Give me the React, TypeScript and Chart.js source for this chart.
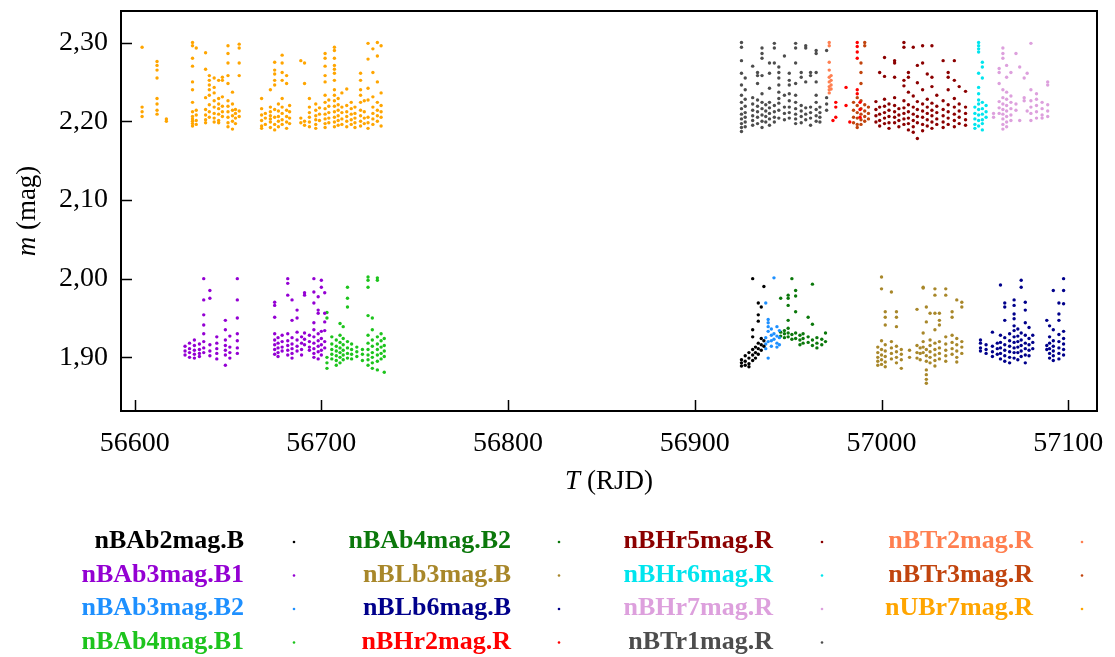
import React, { useEffect, useRef } from "react";
import { Chart, registerables } from "chart.js";

Chart.register(...registerables);

type Night = [number, number[]];

// Observing nights: [RJD, magnitudes measured that night]
const nBAb2magB: Night[] = [
  [56925, [1.897, 1.893, 1.889]],
  [56927, [1.902, 1.895, 1.890]],
  [56929, [1.906, 1.899, 1.892, 1.888]],
  [56931, [2.000, 1.935, 1.926, 1.910, 1.903, 1.896]],
  [56932.5, [1.913, 1.906, 1.899]],
  [56934, [1.969, 1.954, 1.946, 1.918, 1.911, 1.904]],
  [56935.6, [1.964, 1.924, 1.916, 1.909]],
  [56937, [1.990, 1.921, 1.914]],
];

const nBAb3magB1: Night[] = [
  [56627, [1.914, 1.908, 1.903]],
  [56629.4, [1.918, 1.911, 1.906, 1.900]],
  [56632, [1.922, 1.915, 1.909, 1.904, 1.899]],
  [56634.7, [1.917, 1.910, 1.905, 1.901]],
  [56637, [2.000, 1.973, 1.954, 1.941, 1.930, 1.920, 1.912, 1.906]],
  [56640.3, [1.985, 1.975, 1.916, 1.908, 1.902]],
  [56644, [1.926, 1.918, 1.911, 1.905, 1.898]],
  [56648.6, [1.947, 1.935, 1.922, 1.915, 1.909, 1.903, 1.890]],
  [56651, [1.927, 1.913, 1.906, 1.899]],
  [56655, [2.000, 1.973, 1.950, 1.930, 1.921, 1.912, 1.905]],
  [56675, [1.970, 1.966, 1.951, 1.930, 1.922, 1.916, 1.910, 1.904]],
  [56676.8, [1.925, 1.918, 1.912, 1.906, 1.901]],
  [56679, [1.928, 1.920, 1.913, 1.908]],
  [56682, [2.000, 1.994, 1.979, 1.930, 1.921, 1.915, 1.909, 1.903]],
  [56684.3, [1.973, 1.947, 1.925, 1.917, 1.911, 1.905, 1.899]],
  [56687, [1.960, 1.950, 1.932, 1.922, 1.914, 1.908]],
  [56689.4, [1.926, 1.918, 1.910, 1.903]],
  [56691, [1.982, 1.979, 1.931, 1.923, 1.916]],
  [56693.6, [1.928, 1.920, 1.913, 1.909]],
  [56696, [2.000, 1.983, 1.969, 1.944, 1.935, 1.926, 1.918, 1.911, 1.905, 1.900]],
  [56698.3, [1.977, 1.960, 1.956, 1.930, 1.921, 1.914, 1.907, 1.898]],
  [56700, [1.998, 1.989, 1.933, 1.924, 1.916, 1.909, 1.903]],
  [56701.8, [1.982, 1.956, 1.945, 1.934, 1.920, 1.912]],
];

const nBAb3magB2: Night[] = [
  [56938, [1.969, 1.925, 1.917, 1.911]],
  [56939.3, [1.948, 1.944, 1.939, 1.933, 1.920, 1.899]],
  [56941, [1.936, 1.928, 1.921, 1.914]],
  [56942.4, [2.001, 1.930, 1.923]],
  [56944, [1.939, 1.927, 1.918, 1.913]],
  [56945.3, [1.934, 1.925, 1.916]],
];

const nBAb4magB1: Night[] = [
  [56703, [1.957, 1.950, 1.900, 1.893, 1.886]],
  [56705.6, [1.926, 1.917, 1.910, 1.904, 1.898]],
  [56708, [1.922, 1.914, 1.908, 1.902, 1.896, 1.890]],
  [56710, [1.943, 1.928, 1.919, 1.912, 1.906, 1.900, 1.893]],
  [56711.7, [1.939, 1.924, 1.916, 1.909, 1.903, 1.897]],
  [56714, [1.989, 1.975, 1.964, 1.920, 1.912, 1.905, 1.899]],
  [56716.2, [1.917, 1.910, 1.904, 1.898]],
  [56719, [1.913, 1.907, 1.901]],
  [56722, [1.910, 1.904, 1.896]],
  [56725, [2.002, 1.998, 1.989, 1.953, 1.928, 1.918, 1.910, 1.903, 1.897, 1.890]],
  [56727.3, [1.950, 1.935, 1.922, 1.914, 1.906, 1.900, 1.893, 1.886]],
  [56730, [2.001, 1.998, 1.926, 1.917, 1.910, 1.903, 1.895, 1.884]],
  [56732, [1.930, 1.921, 1.913, 1.905, 1.898]],
  [56733.7, [1.924, 1.915, 1.908, 1.901, 1.881]],
];

const nBAb4magB2: Night[] = [
  [56946, [1.975, 1.932, 1.927]],
  [56948, [1.934, 1.930, 1.925]],
  [56950, [1.979, 1.975, 1.966, 1.947, 1.937, 1.931, 1.926]],
  [56952, [2.000, 1.929, 1.923]],
  [56954, [1.985, 1.978, 1.958, 1.931, 1.924]],
  [56956.3, [1.928, 1.922, 1.916]],
  [56958, [1.930, 1.924, 1.918]],
  [56960.7, [1.951, 1.926, 1.919]],
  [56963, [1.993, 1.942, 1.922, 1.915]],
  [56965.4, [1.925, 1.918, 1.912]],
  [56968, [1.923, 1.916]],
  [56970, [1.931, 1.920]],
];

const nBLb3magB: Night[] = [
  [56998, [1.913, 1.906, 1.900, 1.895, 1.890]],
  [57000, [2.002, 1.987, 1.921, 1.910, 1.903, 1.897, 1.891]],
  [57002, [1.958, 1.951, 1.941, 1.916, 1.908, 1.901, 1.894, 1.888]],
  [57005.3, [1.983, 1.920, 1.912, 1.905, 1.898]],
  [57008, [1.958, 1.951, 1.939, 1.914, 1.907, 1.900, 1.893]],
  [57010.6, [1.910, 1.904, 1.897, 1.886]],
  [57015, [1.909, 1.900]],
  [57019, [1.961, 1.915, 1.906, 1.899]],
  [57020.7, [1.912, 1.905, 1.897]],
  [57022.3, [1.989, 1.988, 1.931, 1.920, 1.913, 1.906]],
  [57024, [1.964, 1.945, 1.910, 1.902, 1.895, 1.884, 1.878, 1.872, 1.867]],
  [57026, [1.956, 1.922, 1.915, 1.907, 1.900, 1.893]],
  [57028.6, [1.987, 1.979, 1.956, 1.935, 1.918, 1.910, 1.903, 1.896, 1.889]],
  [57031, [1.956, 1.947, 1.941, 1.920, 1.912, 1.905, 1.898]],
  [57034.4, [1.987, 1.979, 1.926, 1.917, 1.909, 1.902, 1.895]],
  [57037.8, [1.958, 1.951, 1.928, 1.919, 1.911, 1.904]],
  [57040.3, [1.973, 1.924, 1.916, 1.908, 1.900, 1.894]],
  [57043, [1.970, 1.964, 1.920, 1.913, 1.905]],
];

const nBLb6magB: Night[] = [
  [57053, [1.922, 1.918, 1.912, 1.908]],
  [57056, [1.916, 1.910, 1.905]],
  [57059.4, [1.932, 1.914, 1.907, 1.901]],
  [57062, [1.918, 1.911, 1.904]],
  [57063.7, [1.992, 1.928, 1.919, 1.912, 1.905, 1.898]],
  [57066, [1.969, 1.964, 1.947, 1.925, 1.916, 1.909, 1.902, 1.895]],
  [57068.6, [1.930, 1.921, 1.914, 1.907, 1.900, 1.893]],
  [57071, [1.973, 1.966, 1.955, 1.949, 1.940, 1.934, 1.926, 1.919, 1.912, 1.906, 1.899]],
  [57073, [1.936, 1.927, 1.920, 1.913, 1.906, 1.897]],
  [57074.8, [1.998, 1.989, 1.931, 1.922, 1.915, 1.908, 1.901]],
  [57077, [1.970, 1.960, 1.944, 1.928, 1.918, 1.911, 1.903, 1.893]],
  [57079, [1.938, 1.924, 1.916, 1.909, 1.902]],
  [57081, [1.928, 1.919, 1.911]],
  [57088.5, [1.947, 1.915, 1.910]],
  [57090, [1.940, 1.926, 1.918, 1.911, 1.905, 1.899]],
  [57092, [1.985, 1.935, 1.921, 1.914, 1.908, 1.902, 1.896]],
  [57095, [1.969, 1.955, 1.947, 1.929, 1.920, 1.912, 1.905, 1.898]],
  [57097.5, [2.000, 1.985, 1.968, 1.933, 1.924, 1.917, 1.910, 1.903]],
];

const nBHr2magR: Night[] = [
  [56974, [2.201]],
  [56975.5, [2.224, 2.218, 2.205]],
  [56981, [2.243, 2.220]],
  [56983, [2.199]],
  [56987, [2.300, 2.295, 2.288, 2.280, 2.240, 2.235]],
  [56988.5, [2.224, 2.215, 2.205]],
];

const nBHr5magR: Night[] = [
  [56997, [2.225, 2.215, 2.207, 2.199]],
  [56999, [2.262, 2.218, 2.209, 2.201, 2.194]],
  [57001.6, [2.281, 2.257, 2.228, 2.219, 2.211, 2.204, 2.197]],
  [57004, [2.222, 2.214, 2.206, 2.198, 2.191]],
  [57007, [2.277, 2.274, 2.256, 2.230, 2.220, 2.212, 2.205, 2.198]],
  [57009.3, [2.216, 2.208, 2.201, 2.193]],
  [57012, [2.300, 2.294, 2.252, 2.245, 2.226, 2.217, 2.210, 2.203, 2.196]],
  [57014.4, [2.262, 2.256, 2.237, 2.221, 2.212, 2.204, 2.197, 2.189]],
  [57017, [2.294, 2.232, 2.218, 2.209, 2.201, 2.193, 2.186]],
  [57019.2, [2.271, 2.249, 2.225, 2.215, 2.206, 2.198, 2.178]],
  [57022, [2.296, 2.274, 2.240, 2.222, 2.213, 2.205, 2.196, 2.188]],
  [57024.5, [2.260, 2.228, 2.218, 2.210, 2.202, 2.194]],
  [57027, [2.296, 2.256, 2.244, 2.223, 2.214, 2.207, 2.199, 2.191]],
  [57029.6, [2.233, 2.219, 2.211, 2.203, 2.196]],
  [57033, [2.277, 2.226, 2.215, 2.207, 2.199, 2.192]],
  [57035.7, [2.262, 2.256, 2.240, 2.221, 2.212, 2.204, 2.196]],
  [57039, [2.277, 2.252, 2.229, 2.218, 2.209, 2.201, 2.193]],
  [57041.6, [2.244, 2.222, 2.213, 2.205, 2.197]],
  [57045, [2.238, 2.218, 2.210, 2.202, 2.195]],
];

const nBHr6magR: Night[] = [
  [57050, [2.218, 2.210, 2.203, 2.196, 2.191]],
  [57052, [2.300, 2.296, 2.292, 2.288, 2.261, 2.243, 2.235, 2.227, 2.222, 2.215, 2.208, 2.201, 2.194]],
  [57054, [2.275, 2.269, 2.255, 2.224, 2.216, 2.209, 2.202, 2.197, 2.189]],
  [57056, [2.220, 2.212, 2.205]],
];

const nBHr7magR: Night[] = [
  [57060, [2.210, 2.205]],
  [57063, [2.267, 2.262, 2.248, 2.225, 2.217, 2.210]],
  [57065, [2.293, 2.286, 2.280, 2.240, 2.230, 2.222, 2.215, 2.209, 2.203, 2.196, 2.190]],
  [57067, [2.271, 2.256, 2.237, 2.228, 2.220, 2.213, 2.206, 2.199, 2.193]],
  [57069.3, [2.262, 2.232, 2.224, 2.216, 2.208, 2.201]],
  [57072, [2.286, 2.222, 2.214]],
  [57074, [2.269, 2.201]],
  [57076.4, [2.255, 2.230, 2.226]],
  [57078, [2.261, 2.213]],
  [57080, [2.299, 2.240, 2.226, 2.218, 2.210, 2.201]],
  [57083, [2.235, 2.228, 2.220, 2.212, 2.204]],
  [57086, [2.224, 2.216, 2.208, 2.204]],
  [57089, [2.250, 2.246, 2.221, 2.213, 2.206]],
];

const nBTr1magR: Night[] = [
  [56925, [2.300, 2.294, 2.277, 2.261, 2.246, 2.233, 2.224, 2.216, 2.209, 2.203, 2.197, 2.192, 2.187]],
  [56927, [2.255, 2.240, 2.228, 2.219, 2.211, 2.205, 2.199, 2.193]],
  [56931, [2.270, 2.230, 2.222, 2.214, 2.207, 2.201, 2.195]],
  [56933.6, [2.262, 2.258, 2.248, 2.227, 2.219, 2.212, 2.205, 2.197]],
  [56936, [2.293, 2.286, 2.280, 2.258, 2.235, 2.224, 2.216, 2.208, 2.200, 2.192]],
  [56938, [2.221, 2.213, 2.206, 2.199]],
  [56940, [2.274, 2.261, 2.242, 2.224, 2.217, 2.210, 2.203, 2.195]],
  [56942.6, [2.299, 2.293, 2.274, 2.220, 2.212, 2.205, 2.199]],
  [56945, [2.269, 2.262, 2.255, 2.246, 2.237, 2.229, 2.223, 2.214, 2.204]],
  [56948, [2.283, 2.233, 2.218, 2.210, 2.202]],
  [56950.6, [2.261, 2.252, 2.246, 2.235, 2.226, 2.218, 2.211, 2.204]],
  [56954, [2.299, 2.293, 2.274, 2.248, 2.233, 2.224, 2.216, 2.209, 2.203, 2.197]],
  [56957, [2.262, 2.256, 2.220, 2.213, 2.206, 2.198]],
  [56959.4, [2.296, 2.293, 2.250, 2.217, 2.209, 2.202]],
  [56962, [2.262, 2.258, 2.218, 2.211, 2.204, 2.195]],
  [56965, [2.290, 2.286, 2.262, 2.250, 2.233, 2.224, 2.215, 2.207, 2.200]],
  [56967, [2.218, 2.211, 2.205, 2.199]],
  [56970.6, [2.290, 2.230, 2.222, 2.214]],
];

const nBTr2magR: Night[] = [
  [56972, [2.300, 2.296, 2.275, 2.265, 2.256, 2.250, 2.244, 2.240, 2.236]],
  [56973, [2.258, 2.252, 2.246, 2.241]],
];

const nBTr3magR: Night[] = [
  [56985, [2.224, 2.214, 2.205, 2.198]],
  [56987, [2.230, 2.220, 2.211, 2.204, 2.196, 2.192]],
  [56989, [2.274, 2.262, 2.248, 2.226, 2.216, 2.209, 2.202, 2.196]],
  [56991, [2.300, 2.296, 2.221, 2.213, 2.206, 2.200]],
  [56993, [2.218, 2.210, 2.203]],
];

const nUBr7magR: Night[] = [
  [56604, [2.294, 2.218, 2.212, 2.206]],
  [56612, [2.276, 2.271, 2.265, 2.255, 2.229, 2.222, 2.214, 2.209]],
  [56617, [2.203, 2.200]],
  [56631, [2.300, 2.296, 2.280, 2.270, 2.250, 2.240, 2.224, 2.212, 2.206, 2.203, 2.200, 2.197, 2.194]],
  [56633, [2.293, 2.214, 2.208, 2.201, 2.196]],
  [56638, [2.287, 2.266, 2.230, 2.215, 2.208, 2.202, 2.198]],
  [56640, [2.258, 2.252, 2.246, 2.240, 2.233, 2.221, 2.212, 2.205]],
  [56642.6, [2.255, 2.243, 2.236, 2.226, 2.218, 2.210, 2.204, 2.199]],
  [56645, [2.252, 2.229, 2.222, 2.216, 2.209, 2.201, 2.198]],
  [56647, [2.256, 2.252, 2.231, 2.219, 2.212, 2.206]],
  [56650, [2.296, 2.286, 2.274, 2.258, 2.248, 2.226, 2.219, 2.212, 2.205, 2.198, 2.193]],
  [56652.4, [2.237, 2.222, 2.214, 2.207, 2.200, 2.190]],
  [56654, [2.215, 2.210, 2.204, 2.197]],
  [56656, [2.298, 2.293, 2.274, 2.258, 2.213, 2.206]],
  [56668, [2.229, 2.216, 2.208, 2.201, 2.194, 2.191]],
  [56670, [2.210, 2.204, 2.196]],
  [56672.7, [2.240, 2.218, 2.212, 2.207, 2.203, 2.199, 2.192]],
  [56675, [2.275, 2.265, 2.260, 2.252, 2.246, 2.215, 2.205, 2.196, 2.189]],
  [56677, [2.222, 2.213, 2.206, 2.200, 2.193]],
  [56679, [2.284, 2.274, 2.262, 2.252, 2.229, 2.218, 2.210, 2.202, 2.196]],
  [56681.4, [2.258, 2.248, 2.214, 2.206, 2.199, 2.191]],
  [56683, [2.220, 2.212, 2.204, 2.197]],
  [56689, [2.277, 2.204, 2.198]],
  [56691, [2.274, 2.248, 2.200, 2.195]],
  [56693.6, [2.229, 2.218, 2.211, 2.205, 2.199, 2.193]],
  [56697, [2.222, 2.214, 2.207, 2.202, 2.196, 2.191]],
  [56699, [2.217, 2.209, 2.201]],
  [56702, [2.286, 2.280, 2.270, 2.258, 2.250, 2.233, 2.224, 2.216, 2.209, 2.203, 2.197, 2.192]],
  [56704, [2.227, 2.219, 2.211, 2.204, 2.198]],
  [56707, [2.294, 2.290, 2.280, 2.271, 2.266, 2.261, 2.252, 2.240, 2.233, 2.226, 2.219, 2.212, 2.205, 2.199, 2.193]],
  [56709, [2.229, 2.221, 2.214, 2.207, 2.201, 2.195]],
  [56711, [2.236, 2.218, 2.211, 2.203, 2.196]],
  [56713.6, [2.241, 2.220, 2.212, 2.206, 2.200, 2.193]],
  [56716, [2.224, 2.216, 2.209, 2.202, 2.196]],
  [56718, [2.218, 2.210, 2.204, 2.198, 2.192]],
  [56721, [2.261, 2.252, 2.240, 2.233, 2.224, 2.214, 2.207, 2.200, 2.194]],
  [56723, [2.226, 2.212, 2.204, 2.197]],
  [56725, [2.299, 2.279, 2.242, 2.227, 2.205, 2.198, 2.191]],
  [56727.6, [2.292, 2.262, 2.231, 2.218, 2.210, 2.203, 2.196]],
  [56730, [2.300, 2.283, 2.250, 2.224, 2.214, 2.207, 2.200]],
  [56732, [2.296, 2.236, 2.220, 2.212, 2.205, 2.194]],
];

// Series names and colours, in legend order (column by column)
const seriesNames = [
  "nBAb2mag.B", "nBAb3mag.B1", "nBAb3mag.B2", "nBAb4mag.B1",
  "nBAb4mag.B2", "nBLb3mag.B", "nBLb6mag.B", "nBHr2mag.R",
  "nBHr5mag.R", "nBHr6mag.R", "nBHr7mag.R", "nBTr1mag.R",
  "nBTr2mag.R", "nBTr3mag.R", "nUBr7mag.R",
];
const seriesColors = [
  "#000000", "#9400D3", "#1E90FF", "#1DC41D",
  "#0B780B", "#A8872A", "#00008B", "#FF0000",
  "#8B0000", "#00E5EE", "#DDA0DD", "#4D4D4D",
  "#FF7F50", "#C1440E", "#FFA500",
];
const seriesNights: Night[][] = [
  nBAb2magB, nBAb3magB1, nBAb3magB2, nBAb4magB1,
  nBAb4magB2, nBLb3magB, nBLb6magB, nBHr2magR,
  nBHr5magR, nBHr6magR, nBHr7magR, nBTr1magR,
  nBTr2magR, nBTr3magR, nUBr7magR,
];

const xTickValues = [56600, 56700, 56800, 56900, 57000, 57100];
const yTickValues = [1.9, 2.0, 2.1, 2.2, 2.3];

const SERIF = '"Liberation Serif", "Times New Roman", serif';

const toPoints = (nights: Night[]) =>
  nights.flatMap(([t, ms]) => ms.map((m) => ({ x: t, y: m })));

const framePlugin = {
  id: "frameAndTitles",
  afterDraw(chart: any) {
    const { ctx, chartArea } = chart;
    const { left, right, top, bottom } = chartArea;
    const xs = chart.scales.x;
    const ys = chart.scales.y;
    ctx.save();
    // inward tick marks
    ctx.strokeStyle = "#000";
    ctx.lineWidth = 1.5;
    ctx.beginPath();
    xTickValues.forEach((v) => {
      const px = Math.round(xs.getPixelForValue(v)) + 0.5;
      ctx.moveTo(px, bottom);
      ctx.lineTo(px, bottom - 11);
    });
    yTickValues.forEach((v) => {
      const py = Math.round(ys.getPixelForValue(v)) + 0.5;
      ctx.moveTo(left, py);
      ctx.lineTo(left + 11, py);
    });
    ctx.stroke();
    // frame
    ctx.lineWidth = 2;
    ctx.strokeRect(left, top, right - left, bottom - top);

    // axis titles with italic symbols
    ctx.fillStyle = "#000";
    ctx.textBaseline = "alphabetic";
    const drawTitle = (sym: string, rest: string, cx: number, cy: number, rot: number) => {
      ctx.save();
      ctx.translate(cx, cy);
      ctx.rotate(rot);
      ctx.font = `italic 27px ${SERIF}`;
      const w1 = ctx.measureText(sym).width;
      ctx.font = `27px ${SERIF}`;
      const w2 = ctx.measureText(rest).width;
      const start = -(w1 + w2) / 2;
      ctx.textAlign = "left";
      ctx.font = `italic 27px ${SERIF}`;
      ctx.fillText(sym, start, 0);
      ctx.font = `27px ${SERIF}`;
      ctx.fillText(rest, start + w1, 0);
      ctx.restore();
    };
    drawTitle("T", " (RJD)", (left + right) / 2, 489, 0);
    drawTitle("m", " (mag)", 35, (top + bottom) / 2, -Math.PI / 2);

    // legend: four columns, right-aligned names followed by a marker
    const colText = [244, 511, 773, 1033];
    const colDot = [294, 559, 822, 1082];
    const rowBase = [548, 581.5, 615, 648.5];
    ctx.font = `bold 26px ${SERIF}`;
    ctx.textAlign = "right";
    seriesNames.forEach((name, i) => {
      const c = Math.floor(i / 4);
      const r = i % 4;
      ctx.fillStyle = seriesColors[i];
      ctx.fillText(name, colText[c], rowBase[r]);
      ctx.beginPath();
      ctx.arc(colDot[c], rowBase[r] - 6, 1.3, 0, Math.PI * 2);
      ctx.fill();
    });
    ctx.restore();
  },
};

export default function App() {
  const canvasRef = useRef<HTMLCanvasElement | null>(null);

  useEffect(() => {
    const canvas = canvasRef.current;
    if (!canvas) return;
    const chart = new Chart(canvas, {
      type: "scatter",
      data: {
        datasets: seriesNames.map((name, i) => ({
          label: name,
          data: toPoints(seriesNights[i]),
          backgroundColor: seriesColors[i],
          borderColor: seriesColors[i],
          pointRadius: 1.7,
          pointBorderWidth: 0,
          showLine: false,
        })),
      },
      options: {
        animation: false,
        responsive: false,
        maintainAspectRatio: false,
        layout: { padding: { left: 0, right: 18, top: 11, bottom: 0 } },
        plugins: {
          legend: { display: false },
          tooltip: { enabled: false },
        },
        scales: {
          x: {
            type: "linear",
            min: 56592.7,
            max: 57115.4,
            grid: { display: false, drawTicks: false },
            border: { display: false },
            afterFit: (scale: any) => {
              scale.height = 657 - 411;
              scale.paddingLeft = 0;
              scale.paddingRight = 0;
            },
            afterBuildTicks: (scale: any) => {
              scale.ticks = xTickValues.map((v) => ({ value: v }));
            },
            ticks: {
              padding: 16,
              maxRotation: 0,
              autoSkip: false,
              color: "#000",
              font: { family: SERIF, size: 28 },
              callback: (v: any) => String(v),
            },
          },
          y: {
            type: "linear",
            min: 1.8318,
            max: 2.3401,
            grid: { display: false, drawTicks: false },
            border: { display: false },
            afterFit: (scale: any) => {
              scale.width = 121;
              scale.paddingTop = 0;
              scale.paddingBottom = 0;
            },
            afterBuildTicks: (scale: any) => {
              scale.ticks = yTickValues.map((v) => ({ value: v }));
            },
            ticks: {
              padding: 13,
              autoSkip: false,
              color: "#000",
              font: { family: SERIF, size: 28 },
              callback: (v: any) => Number(v).toFixed(2).replace(".", ","),
            },
          },
        },
      },
      plugins: [framePlugin],
    });
    return () => chart.destroy();
  }, []);

  return (
    <div
      style={{
        position: "absolute",
        left: 0,
        top: 0,
        width: 1115,
        height: 657,
        background: "#fff",
      }}
    >
      <canvas ref={canvasRef} width={1115} height={657} style={{ width: 1115, height: 657 }} />
    </div>
  );
}
